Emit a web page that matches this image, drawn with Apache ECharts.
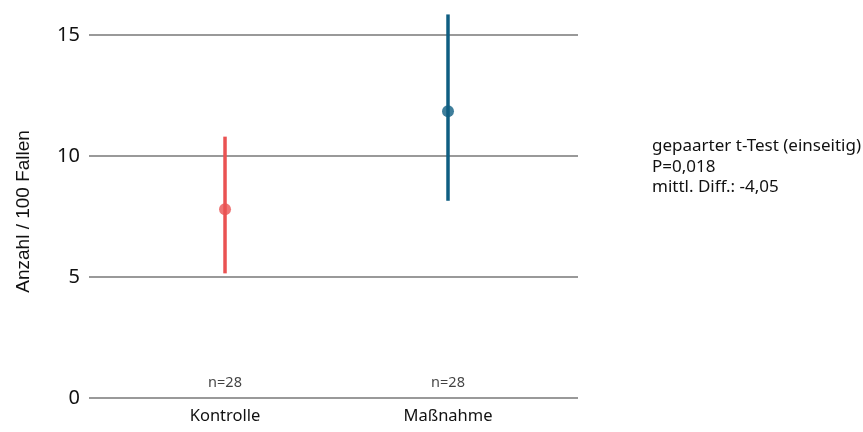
<!DOCTYPE html>
<html>
<head>
<meta charset="utf-8">
<script src="https://cdn.jsdelivr.net/npm/echarts@6/dist/echarts.min.js"></script>
<style>
  html, body { margin: 0; padding: 0; background: #fff; }
  #chart { width: 863px; height: 432px; }
</style>
</head>
<body>
<div id="chart"></div>
<script>
var categories = ['Kontrolle', 'Maßnahme'];
var means = [7.8, 11.85];
var lows = [5.15, 8.15];
var highs = [10.8, 15.85];
var counts = ['n=28', 'n=28'];
var colors = ['#EA5252', '#0F5E82'];
var noteLines = ['gepaarter t-Test (einseitig)', 'P=0,018', 'mittl. Diff.: -4,05'];

var font = 'Noto Sans';

var barData = categories.map(function (c, i) { return [i, lows[i], highs[i]]; });
var pointData = categories.map(function (c, i) {
    return { value: [i, means[i]], itemStyle: { color: colors[i] } };
});
var countData = categories.map(function (c, i) { return { value: [i, 0], label: { formatter: counts[i] } }; });

var chart = echarts.init(document.getElementById('chart'));
chart.setOption({
    animation: false,
    grid: { left: 89, right: 285, top: 10.8, bottom: 34 },
    xAxis: {
        type: 'value',
        min: -0.61,
        max: 1.583,
        splitLine: { show: false },
        axisLine: { show: false },
        axisTick: { show: false },
        axisLabel: {
            customValues: [0, 1],
            formatter: function (v) { return categories[Math.round(v)]; },
            color: '#111',
            fontFamily: font,
            fontSize: 16.5,
            margin: 10
        }
    },
    yAxis: {
        type: 'value',
        min: 0,
        max: 16,
        interval: 5,
        name: 'Anzahl / 100 Fallen',
        nameLocation: 'middle',
        nameGap: 56,
        nameTextStyle: {
            color: '#111',
            fontFamily: 'Liberation Sans',
            fontSize: 19,
            padding: [0, 14, 0, 0]
        },
        axisLine: { show: false },
        axisTick: { show: false },
        axisLabel: {
            showMaxLabel: false,
            color: '#111',
            fontFamily: font,
            fontSize: 20,
            margin: 9
        },
        splitLine: {
            showMaxLine: false,
            lineStyle: { color: '#777', width: 1.5 }
        }
    },
    series: [
        {
            type: 'custom',
            data: barData,
            encode: { x: 0, y: [1, 2] },
            clip: false,
            renderItem: function (params, api) {
                var x = api.value(0);
                var p1 = api.coord([x, api.value(1)]);
                var p2 = api.coord([x, api.value(2)]);
                return {
                    type: 'line',
                    shape: { x1: p1[0], y1: p1[1], x2: p2[0], y2: p2[1] },
                    style: { stroke: colors[params.dataIndex], lineWidth: 3.5 }
                };
            }
        },
        {
            type: 'scatter',
            data: pointData,
            symbolSize: 12,
            clip: false
        },
        {
            type: 'scatter',
            data: countData,
            symbolSize: 0,
            label: {
                show: true,
                position: 'top',
                distance: 8,
                color: '#111',
                fontFamily: font,
                fontSize: 14.5
            }
        }
    ],
    graphic: [{
        type: 'text',
        left: 652,
        top: 136,
        style: {
            text: noteLines.join('\n'),
            fill: '#111',
            font: '17px "Noto Sans"',
            lineHeight: 20.5
        }
    }]
});
</script>
</body>
</html>
